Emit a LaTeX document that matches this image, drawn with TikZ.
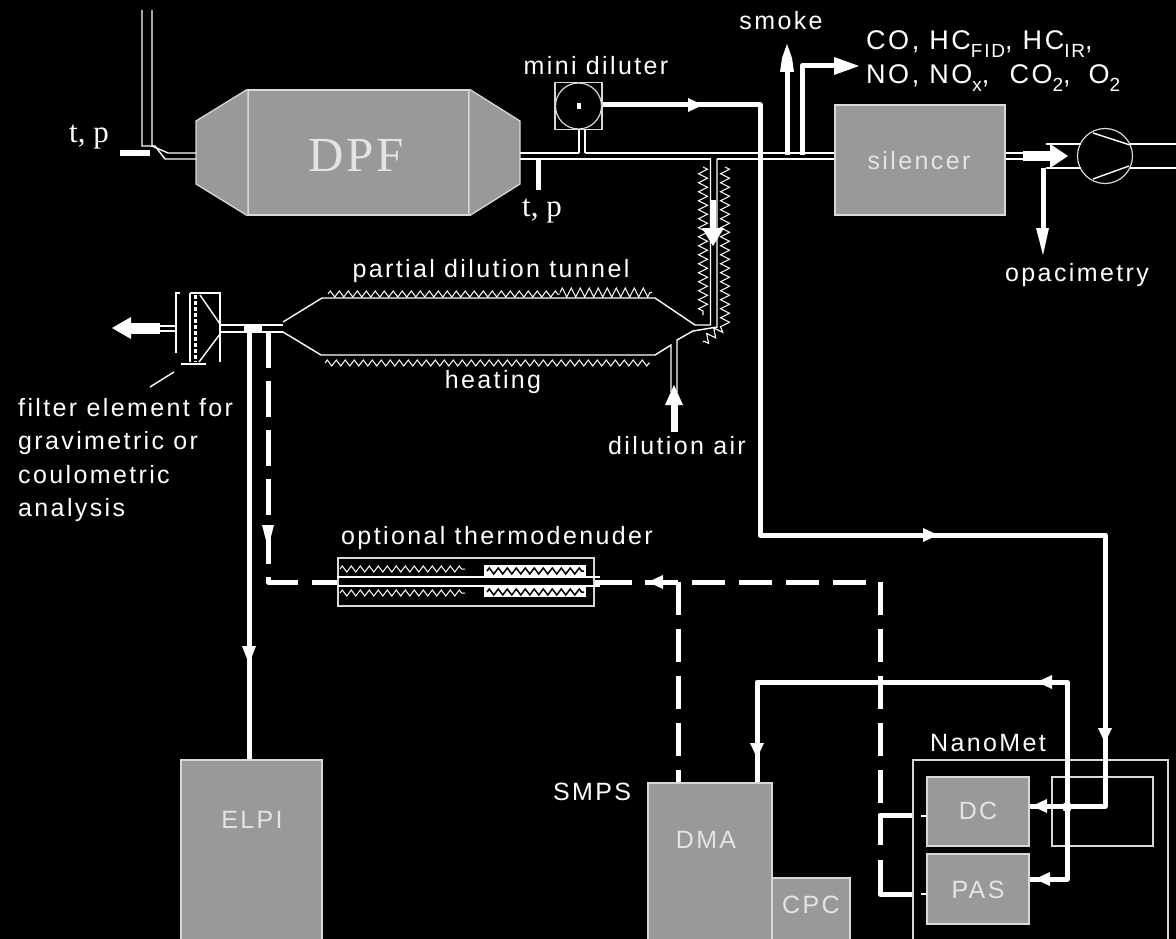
\documentclass[tikz,border=0pt]{standalone}
\usepackage{fontspec}
\usetikzlibrary{decorations.pathmorphing}
\newfontfamily\lab[LetterSpace=9.5]{Liberation Sans}
\newfontfamily\serifl{Liberation Serif}
\newfontfamily\seriflw[LetterSpace=5]{Liberation Serif}
\definecolor{boxgrey}{HTML}{999999}
\definecolor{edgegrey}{HTML}{D8D8D8}
\definecolor{txtgrey}{HTML}{E4E4E4}
\newcommand{\subs}[1]{\raisebox{-0.28em}{\fontsize{19}{19}\selectfont #1}}
\newcommand{\midhead}[3]{\fill[white,shift={(#1,#2)},rotate=#3] (8,0) -- (-7,-7) -- (-7,7) -- cycle;}
\tikzset{x=1pt,y=-1pt,
  unit/.style={draw=edgegrey,fill=boxgrey,line width=1.3pt},
  frame/.style={draw=edgegrey,line width=1.3pt},
  pipe/.style={draw=white,line width=1.4pt},
  wire/.style={draw=white,line width=5pt,line join=round},
  dashwire/.style={draw=white,line width=5pt,dash pattern=on 36pt off 13pt,line join=round},
  heat/.style={draw=white,line width=1pt,decorate,decoration={zigzag,amplitude=3pt,segment length=9pt}},
  bigheat/.style={draw=white,line width=1.1pt,decorate,decoration={zigzag,amplitude=4.5pt,segment length=9pt}},
  lbl/.style={text=white,font=\fontsize{25}{32}\selectfont\lab,inner sep=0pt},
  inlbl/.style={text=txtgrey,font=\fontsize{25}{32}\selectfont\lab,inner sep=0pt},
  serlbl/.style={text=white,font=\fontsize{31}{32}\selectfont\serifl,inner sep=0pt}}
\begin{document}
\begin{tikzpicture}
\fill[black] (0,0) rectangle (1176,939);
\useasboundingbox (0,0) rectangle (1176,939);
% units
\node[unit,minimum width=221pt,minimum height=125pt,inner sep=0pt] (dpf) at (358.5,152.5) {};
\draw[unit] (dpf.north west) -- (196,121) -- (196,184) -- (dpf.south west);
\draw[unit] (dpf.north east) -- (520,121) -- (520,184) -- (dpf.south east);
\coordinate (dpfin) at (196,156);
\coordinate (dpfout) at (520,156);
\node[text=txtgrey,font=\fontsize{49}{49}\selectfont\seriflw,inner sep=0pt] (dpflbl) at (356,156) {DPF};
\node[unit,minimum width=170pt,minimum height=110pt,inner sep=0pt] (silencer) at (920,160) {};
\node[inlbl] (silencerlbl) at (919,161) {silencer};
\node[unit,minimum width=141pt,minimum height=190pt,inner sep=0pt] (elpi) at (251.5,855) {};
\node[inlbl] (elpilbl) at (252,820) {ELPI};
\node[unit,minimum width=124pt,minimum height=170pt,inner sep=0pt] (dma) at (710,868) {};
\node[inlbl] (dmalbl) at (706,840) {DMA};
\node[unit,minimum width=78pt,minimum height=80pt,inner sep=0pt] (cpc) at (811,918) {};
\node[inlbl] (cpclbl) at (811,905) {CPC};
\node[frame,minimum width=255pt,minimum height=200pt,inner sep=0pt] (nanomet) at (1040.5,860) {};
\node[frame,minimum width=101pt,minimum height=69pt,inner sep=0pt] (ghost) at (1102.5,811.5) {};
\node[unit,minimum width=102pt,minimum height=69pt,inner sep=0pt] (dc) at (978,811.5) {};
\node[inlbl] (dclbl) at (978,811) {DC};
\node[unit,minimum width=102pt,minimum height=70pt,inner sep=0pt] (pas) at (978,889) {};
\node[inlbl] (paslbl) at (978,890) {PAS};
% inlet pipe
\coordinate (inA) at (142,10); \coordinate (inB) at (152,10);
\draw[pipe] (inA) -- (142,146) -- (155,146) -- (165,159) -- (dpfin |- 0,159);
\draw[pipe] (inB) -- (152,146) -- (168,153) -- (dpfin |- 0,153);
\coordinate (tp1a) at (120,153); \coordinate (tp1b) at (150,153);
\draw[white,line width=6pt] (tp1a) -- (tp1b);
\node[serlbl] (tp1) at (89,137) {t, p};
% main pipe
\draw[pipe] (dpfout |- 0,153) -- (579,153);
\draw[pipe] (585,153) -- (silencer.west |- 0,153);
\draw[pipe] (dpfout |- 0,159) -- (710.5,159);
\draw[pipe] (717,159) -- (silencer.west |- 0,159);
\coordinate (tp2a) at (538,159); \coordinate (tp2b) at (538,190);
\draw[white,line width=5pt] (tp2a) -- (tp2b);
\node[serlbl] (tp2) at (542,211) {t, p};
% mini diluter
\node[frame,fill=black,minimum size=47pt,inner sep=0pt] (mini) at (578.5,106) {};
\node[draw=edgegrey,line width=1.2pt,circle,minimum size=46pt,inner sep=0pt] (minic) at (578.5,106) {};
\fill[white] (576.5,103) rectangle (580.5,109);
\draw[pipe] (579,130) -- (579,153);
\draw[pipe] (585,130) -- (585,153);
\node[lbl] (minilbl) at (596,66) {mini diluter};
% smoke and gas
\coordinate (smokeA) at (787,155); \coordinate (smokeB) at (787,55);
\draw[white,line width=5pt] (smokeA) -- (smokeB);
\fill[white] (787,44) -- (792,58) -- (794,72) -- (780,72) -- (782,58) -- cycle;
\node[lbl] (smoke) at (781,21) {smoke};
\coordinate (gasA) at (802,155); \coordinate (gasC) at (845,66);
\draw[wire] (gasA) -- (802,66) -- (gasC);
\fill[white] (859,66) -- (834,57) -- (834,75) -- cycle;
\node[lbl,anchor=west,align=left,font=\fontsize{27}{34}\selectfont\lab] (gases) at (866,61) {CO, HC\subs{FID}, HC\subs{IR},\\NO, NO\subs{x}, \hspace{10pt}CO\subs{2}, \hspace{8pt}O\subs{2}};
% after silencer
\draw[pipe] (silencer.east |- 0,153) -- (1025,153);
\draw[pipe] (silencer.east |- 0,159) -- (1025,159);
\draw[white,line width=10pt] (1023,156.5) -- (1052,156.5);
\fill[white] (1068,156) -- (1050,144) -- (1050,168) -- cycle;
\node[draw=edgegrey,line width=1.2pt,circle,minimum size=55pt,inner sep=0pt] (pump) at (1105,156) {};
\draw[pipe] (1046,144) -- (1081,144);
\draw[pipe] (1046,168) -- (1081,168);
\draw[pipe] (1130,144) -- (1176,144);
\draw[pipe] (1130,168) -- (1176,168);
\draw[pipe] (1093,133) -- (1130,145);
\draw[pipe] (1093,179) -- (1129,166);
\coordinate (opA) at (1043,168); \coordinate (opB) at (1043,235);
\draw[white,line width=5pt] (opA) -- (opB);
\fill[white] (1043,255) -- (1049,228) -- (1036,228) -- cycle;
\node[lbl] (opac) at (1077,275) {opacimetry};
% dilution branch
\draw[pipe] (710.5,159) -- (710.5,325) -- (695,325) -- (655,298) -- (322,298) -- (283,322);
\draw[pipe] (717,159) -- (717,327) -- (693,331) -- (677,340) -- (677,392);
\draw[pipe] (671,392) -- (671,345) -- (655,355) -- (321,355) -- (283,332);
\draw[white,line width=6pt] (713,200) -- (713,232);
\fill[white] (713,246) -- (724,228) -- (702,228) -- cycle;
\draw[bigheat] (703,167) -- (703,315);
\draw[bigheat] (725,167) -- (725,325) -- (703,342);
\draw[heat] (328,294) -- (560,294);
\draw[bigheat] (560,292.5) -- (652,292.5);
\draw[heat] (325,363) -- (650,363);
\coordinate (airA) at (674,432); \coordinate (airB) at (674,400);
\draw[white,line width=7pt] (airA) -- (airB);
\fill[white] (674,385) -- (665,405) -- (683,405) -- cycle;
\node[lbl] (tunnel) at (491,271) {partial dilution tunnel};
\node[lbl] (heating) at (493,382) {heating};
\node[lbl] (air) at (677,446) {dilution air};
% filter
\draw[pipe] (283,325) -- (220,325);
\draw[pipe] (283,332) -- (220,332);
\draw[pipe] (180,293) -- (176,293) -- (176,353);
\draw[pipe] (190,293) -- (190,362);
\draw[pipe] (190,293) -- (221,293);
\draw[pipe] (220,293) -- (220,362);
\draw[pipe] (181,364) -- (206,364);
\draw[pipe] (200,295) -- (220,324);
\draw[pipe] (199,362) -- (220,334);
\draw[white,line width=3pt,dash pattern=on 4pt off 2pt] (195,295) -- (195,362);
\draw[pipe] (176,326) -- (158,326);
\draw[pipe] (176,331) -- (158,331);
\coordinate (outA) at (160,328); \coordinate (outB) at (130,328);
\draw[white,line width=11pt] (outA) -- (outB);
\fill[white] (112,328) -- (131,317) -- (131,339) -- cycle;
\coordinate (leadA) at (150,387); \coordinate (leadB) at (174,372);
\draw[pipe] (leadA) -- (leadB);
\node[lbl,anchor=north west,align=left,font=\fontsize{25}{33.5}\selectfont\lab] (filterlbl) at (18,398) {filter element for\\gravimetric or\\coulometric\\analysis};
% ELPI line
\fill[white] (244,324) rectangle (262,331);
\draw[white,line width=5pt] (249,328) -- (elpi.north -| 249,0);
\fill[white] (249,664) -- (256,646) -- (242,646) -- cycle;
% thermodenuder
\node[frame,minimum width=256pt,minimum height=48pt,inner sep=0pt] (td) at (466,582) {};
\draw[heat] (340,569) -- (465,569);
\draw[heat] (340,593) -- (465,593);
\fill[white] (484,565) rectangle (586,577);
\fill[white] (484,587) rectangle (586,597);
\draw[black,line width=1.5pt,decorate,decoration={zigzag,amplitude=3pt,segment length=9pt}] (487,571) -- (584,571);
\draw[black,line width=1.5pt,decorate,decoration={zigzag,amplitude=3pt,segment length=9pt}] (487,592) -- (584,592);
\draw[pipe] (td.west |- 0,577) -- (600,577);
\draw[pipe] (td.west |- 0,586) -- (600,586);
\node[lbl] (tdlbl) at (497,538) {optional thermodenuder};
% dashed sample lines
\draw[dashwire] (268,332) -- (268,582) -- (298,582);
\fill[white] (268,548) -- (274,525) -- (262,525) -- cycle;
\coordinate (dA) at (312,582);
\draw[wire] (dA) -- (td.west |- 0,582);
\draw[wire] (td.east |- 0,582) -- (632,582);
\draw[white,line width=5pt,dash pattern=on 33pt off 14pt] (645,582) -- (880,582) -- (880,815);
\midhead{656}{582}{180}
\draw[white,line width=5pt,dash pattern=on 33pt off 14pt] (678,582) -- (dma.north -| 678,0);
\draw[wire] (880,845) -- (880,815) -- (nanomet.west |- 0,815);
\draw[wire] (880,860) -- (880,894) -- (nanomet.west |- 0,894);
\draw[white,line width=1.5pt] (921,816) -- (dc.west |- 0,816);
\draw[white,line width=1.5pt] (921,894) -- (pas.west |- 0,894);
\node[lbl] (smps) at (592,792) {SMPS};
\node[lbl] (nmlbl) at (988,743) {NanoMet};
% solid sample lines
\draw[wire] (mini.east |- 0,105) -- (760,105) -- (760,535) -- (1105,535) -- (1105,806) -- (dc.east |- 0,806);
\midhead{695}{105}{0}
\midhead{930}{535}{0}
\midhead{1105}{735}{-90}
\midhead{1040}{806}{180}
\draw[wire] (dma.north -| 757,0) -- (757,682) -- (1067,682) -- (1067,879) -- (pas.east |- 0,879);
\midhead{757}{750}{-90}
\midhead{1045}{682}{180}
\midhead{1043}{879}{180}
\fill[white] (1067,807) circle (5pt);
\end{tikzpicture}
\end{document}
